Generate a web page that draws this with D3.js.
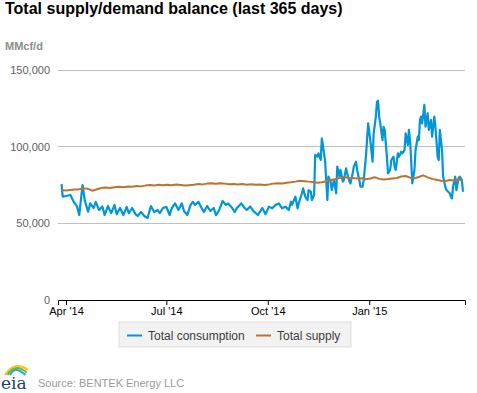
<!DOCTYPE html>
<html>
<head>
<meta charset="utf-8">
<script src="https://cdn.jsdelivr.net/npm/d3@7"></script>
<style>
  body { margin: 0; background: #fff; font-family: "Liberation Sans", Arial, sans-serif; }
  svg text { font-family: "Liberation Sans", Arial, sans-serif; }
</style>
</head>
<body>
<div id="vis"></div>
<script>
// chart size
const W = 477, H = 393;
const margin = { top: 70, right: 12, bottom: 93, left: 58 };

// series data (thousand MMcf/d), days counted from start date
const startDate = new Date(2014, 2, 28);
const consDays = [0, 1, 4, 8, 11, 14, 16, 19, 21, 24, 26, 29, 31, 34, 37, 39, 42, 45, 48, 50,
    53, 56, 59, 61, 64, 67, 69, 72, 75, 78, 81, 84, 87, 89, 92, 95, 98, 100, 103, 106,
    109, 111, 114, 117, 119, 121, 124, 127, 129, 132, 135, 138, 140, 143, 146, 149, 151, 154, 157, 159,
    163, 166, 168, 171, 174, 178, 182, 185, 188, 191, 194, 197, 200, 203, 206, 208, 209, 212, 214, 215,
    218, 219, 221, 223, 224, 226, 227, 229, 230, 232, 233, 235, 236, 238, 239, 241, 242, 244, 245, 247,
    249, 250, 252, 253, 255, 256, 258, 259, 261, 262, 264, 265, 267, 268, 270, 271, 273, 274, 276, 278,
    280, 282, 283, 285, 286, 287, 288, 289, 291, 292, 293, 295, 296, 298, 299, 301, 302, 303, 305, 306,
    308, 309, 311, 312, 314, 315, 316, 317, 318, 320, 321, 323, 324, 325, 326, 327, 329, 330, 332, 333,
    335, 336, 338, 339, 341, 342, 343, 345, 346, 348, 349, 352, 353, 354, 355, 357, 358, 360, 361, 363, 364];
const consValues = [75.6, 67.4, 67.8, 68.5, 64.0, 61.0, 55.4, 75.0, 65.0, 57.6, 63.0, 60.0, 64.0, 58.7, 61.0, 55.4, 61.3, 56.7, 62.0, 56.0,
    60.0, 55.4, 60.7, 56.7, 60.0, 56.0, 54.8, 57.4, 54.8, 53.5, 61.3, 57.4, 58.7, 56.7, 60.0, 60.8, 55.4, 60.0, 63.0, 58.7,
    63.0, 58.0, 55.4, 62.0, 64.0, 62.0, 64.0, 60.0, 57.4, 61.3, 58.0, 60.0, 55.4, 58.7, 64.6, 62.0, 63.0, 60.7, 57.4, 60.0,
    63.0, 60.0, 58.7, 61.0, 58.0, 55.4, 60.0, 56.0, 60.9, 59.8, 62.0, 63.0, 59.8, 60.9, 58.7, 64.1, 62.0, 67.4, 59.8, 63.0,
    69.6, 72.8, 67.4, 65.2, 71.7, 70.6, 65.2, 68.5, 94.6, 93.5, 95.7, 91.3, 105.4, 95.7, 90.2, 65.2, 80.4, 77.2, 71.7, 78.3,
    69.6, 87.0, 80.4, 84.8, 77.2, 78.3, 85.9, 82.6, 77.2, 76.1, 82.6, 87.0, 90.2, 84.8, 78.3, 73.9, 73.9, 78.3, 93.5, 115.2,
    104.0, 90.2, 108.7, 119.6, 129.3, 130.0, 119.6, 115.2, 104.3, 113.0, 110.9, 93.5, 82.6, 84.8, 91.3, 93.5, 87.0, 84.8, 95.7, 93.5,
    96.7, 95.7, 97.8, 108.7, 101.1, 110.9, 104.3, 91.3, 76.1, 84.8, 97.8, 106.5, 104.3, 117.4, 119.6, 115.2, 127.2, 113.0, 121.7, 110.9,
    117.4, 106.5, 119.6, 113.0, 93.5, 91.3, 110.9, 97.8, 80.4, 73.9, 71.7, 69.6, 67.4, 66.3, 73.9, 80.4, 71.7, 79.3, 80.4, 78.3, 70.6];

const supplyDays = d3.range(0, 365, 4);
const supplyValues = [71.7, 71.4, 71.8, 72.1, 72.3, 72.8, 72.5, 71.3, 72.2, 73.0, 73.3, 73.1, 73.6, 73.9, 73.5, 74.0,
    73.8, 74.4, 74.1, 74.6, 75.0, 74.7, 75.1, 74.8, 75.2, 74.9, 75.3, 75.0, 74.6, 74.9, 75.2, 75.6,
    75.4, 75.9, 76.1, 75.8, 76.2, 75.9, 75.5, 75.7, 75.3, 75.6, 75.2, 75.5, 75.1, 75.4, 75.0, 75.4,
    75.9, 76.2, 76.0, 76.5, 76.8, 77.2, 77.8, 77.5, 77.2, 77.0, 76.5, 76.8, 77.4, 78.3, 78.8, 79.6,
    80.2, 79.8, 79.5, 79.2, 79.4, 78.8, 79.2, 80.1, 79.0, 78.6, 78.9, 79.3, 79.6, 80.5, 80.9, 79.8,
    79.4, 80.2, 81.3, 80.0, 79.0, 78.4, 77.8, 77.6, 78.2, 78.0, 78.7, 77.6];

const seriesNames = ['Total consumption', 'Total supply'];
const seriesColors = ['#0096d7', '#bd722e'];
const yTicks = [0, 50000, 100000, 150000];
const xTickDates = [new Date(2014, 3, 1), new Date(2014, 6, 1), new Date(2014, 9, 1), new Date(2015, 0, 1)];

const titleText = 'Total supply/demand balance (last 365 days)';
const unitText = 'MMcf/d';
const sourceText = 'Source: BENTEK Energy LLC';

// build rows
const toRows = (days, vals) => days.map((d, i) => ({ date: d3.timeDay.offset(startDate, d), value: vals[i] * 1000 }));
const series = [toRows(consDays, consValues), toRows(supplyDays, supplyValues)];

const svg = d3.select('#vis').append('svg')
    .attr('width', W).attr('height', H);

const innerW = W - margin.left - margin.right;
const innerH = H - margin.top - margin.bottom;

const x = d3.scaleTime()
    .domain([new Date(2014, 2, 24, 18), new Date(2015, 2, 28, 20)])
    .range([0, innerW]);
const y = d3.scaleLinear().domain([0, 150000]).range([innerH, 0]);

const g = svg.append('g').attr('transform', `translate(${margin.left},${margin.top})`);

// gridlines
g.append('g')
    .selectAll('line').data(yTicks.filter(t => t > 0)).join('line')
    .attr('x1', 0).attr('x2', innerW)
    .attr('y1', d => y(d)).attr('y2', d => y(d))
    .attr('stroke', '#c0c0c0').attr('stroke-width', 1)
    .attr('shape-rendering', 'crispEdges');

// y axis labels
const yAxis = g.append('g')
    .call(d3.axisLeft(y).tickValues(yTicks).tickFormat(d3.format(',')).tickSize(0).tickPadding(8));
yAxis.select('.domain').remove();
yAxis.selectAll('text').attr('fill', '#606060').attr('font-size', 11);

// lines
const line = d3.line().x(d => x(d.date)).y(d => y(d.value));
g.selectAll('.series').data(series).join('path')
    .attr('class', 'series')
    .attr('fill', 'none')
    .attr('stroke', (d, i) => seriesColors[i])
    .attr('stroke-width', (d, i) => i === 0 ? 2.2 : 2)
    .attr('stroke-linejoin', 'round')
    .attr('d', line);

// x axis
const xAxis = g.append('g')
    .attr('transform', `translate(0,${innerH})`)
    .call(d3.axisBottom(x).tickValues(xTickDates).tickFormat(d3.timeFormat("%b '%y")).tickSizeOuter(0).tickSize(5).tickPadding(2));
xAxis.select('.domain').attr('stroke', '#000').attr('stroke-width', 1);
xAxis.selectAll('.tick line').attr('stroke', '#000');
xAxis.selectAll('text').attr('fill', '#000').attr('font-size', 11);

// title and units
svg.append('text').attr('x', 5).attr('y', 14)
    .attr('font-size', 16).attr('font-weight', 'bold').attr('fill', '#000')
    .text(titleText);
svg.append('text').attr('x', 5).attr('y', 50)
    .attr('font-size', 11).attr('font-weight', 'bold').attr('fill', '#8c8c8c')
    .text(unitText);

// legend
const legend = svg.append('g').attr('transform', 'translate(119,322)');
legend.append('rect').attr('width', 232).attr('height', 25)
    .attr('fill', '#f2f2f2').attr('stroke', '#dddddd');
const itemX = [8, 137];
seriesNames.forEach((name, i) => {
    legend.append('line')
        .attr('x1', itemX[i]).attr('x2', itemX[i] + 15)
        .attr('y1', 13.5).attr('y2', 13.5)
        .attr('stroke', seriesColors[i]).attr('stroke-width', 2);
    legend.append('text')
        .attr('x', itemX[i] + 21).attr('y', 17.5)
        .attr('font-size', 12).attr('fill', '#3c3c3c')
        .text(name);
});

// eia logo + source
const logo = svg.append('g').attr('transform', 'translate(1,361)');
[['#f4c900', 0], ['#6ab43e', 2.5], ['#2aa7d9', 5]].forEach(([c, o]) => {
    logo.append('path')
        .attr('d', `M${4 + o},${14} Q${14},${o - 1} ${27 - o / 2},${9 + o}`)
        .attr('fill', 'none').attr('stroke', c).attr('stroke-width', 2);
});
logo.append('text').attr('x', 0).attr('y', 28)
    .attr('font-size', 17)
    .attr('fill', '#1d3f6e').style('font-family', '"DejaVu Serif", serif')
    .text('eia');
svg.append('text').attr('x', 38).attr('y', 387)
    .attr('font-size', 11).attr('fill', '#9a9a9a')
    .text(sourceText);
</script>
</body>
</html>
